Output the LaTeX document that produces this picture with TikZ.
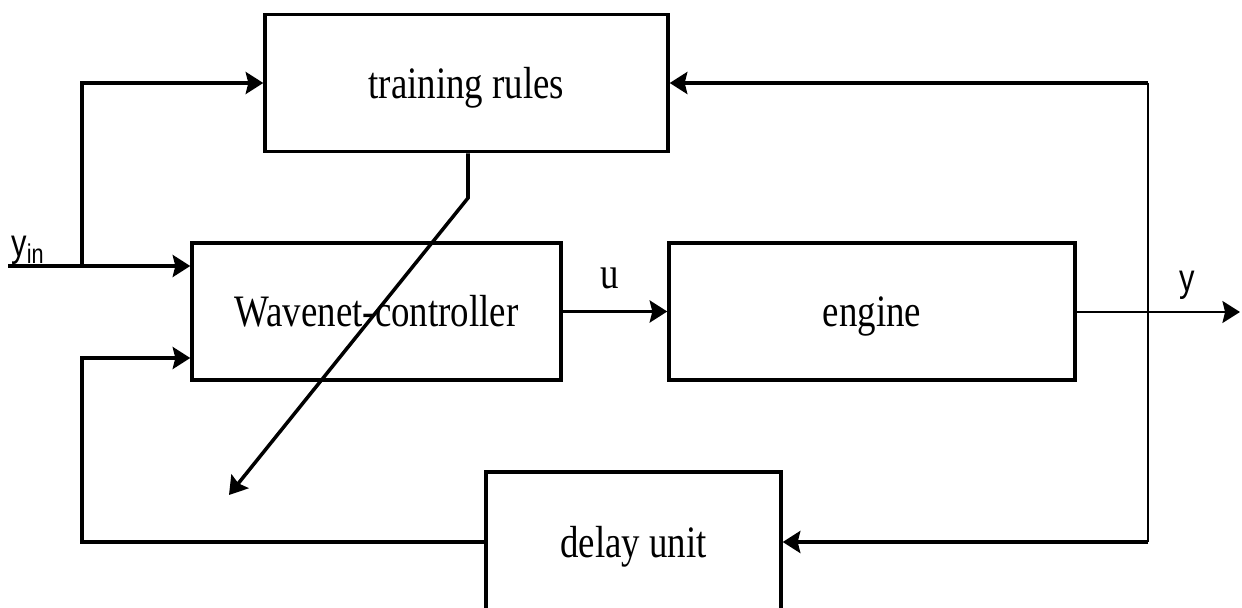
\documentclass[tikz,border=0pt]{standalone}
\usepackage{fontspec}
\setmainfont{Liberation Serif}[FakeStretch=0.82]
\newfontfamily\labelsf{Liberation Sans}[FakeStretch=0.8]
\usetikzlibrary{positioning,arrows.meta}

\begin{document}
\begin{tikzpicture}[x=0.02cm,y=-0.02cm,
  blk/.style={draw,line width=2pt,inner sep=0pt,minimum height=2.75cm,text height=0.75cm,text depth=0.13cm,font=\fontsize{25.6}{30}\selectfont},
  sig/.style={line width=2pt,-{Stealth[length=10pt,width=12.5pt,inset=1.5pt]}}]
\clip (0,0) rectangle (1242,608);
\node[blk,minimum width=8.06cm] (train) at (466.5,83) {training rules};
\node[blk,minimum width=7.38cm] (ctrl) at (376.5,311.5) {Wavenet-controller};
\node[blk,minimum width=8.12cm] (engine) at (872,311.5) {engine};
\node[blk,minimum width=5.9cm,minimum height=2.8cm] (delay) at (633.5,542) {delay unit};
\coordinate (in) at (8,266);
\coordinate (split) at (82,266);
\coordinate (fb) at (82,358);
\coordinate (out) at (1240,312);
\coordinate (ne) at (1148,83);
\coordinate (se) at (1148,542);
\coordinate (bend) at (468,198);
\coordinate (tip) at (229,495);
\draw[sig] (in) -- (in -| ctrl.west);
\draw[sig] (split) |- (train.west);
\draw[sig] (delay.west) -| (fb) -- (fb -| ctrl.west);
\draw[sig] (ctrl) -- (engine);
\draw[sig,line width=1.3pt] (engine.east |- out) -- (out);
\draw[line width=0.8pt] (ne) -- (se);
\draw[sig] (ne) -- (train.east);
\draw[sig] (se) -- (delay.east);
\draw[sig] (train.south -| bend) -- (bend) -- (tip);
\node[anchor=base,font=\fontsize{25.6}{30}\selectfont] (ulab) at (610,288) {u};
\node[anchor=base,font=\labelsf\fontsize{22}{26}\selectfont] (ylab) at (1187,292) {y};
\node[anchor=base west,inner sep=0pt,font=\labelsf\fontsize{22}{26}\selectfont] (yinlab) at (11,256) {y\textsubscript{in}};
\end{tikzpicture}
\end{document}
